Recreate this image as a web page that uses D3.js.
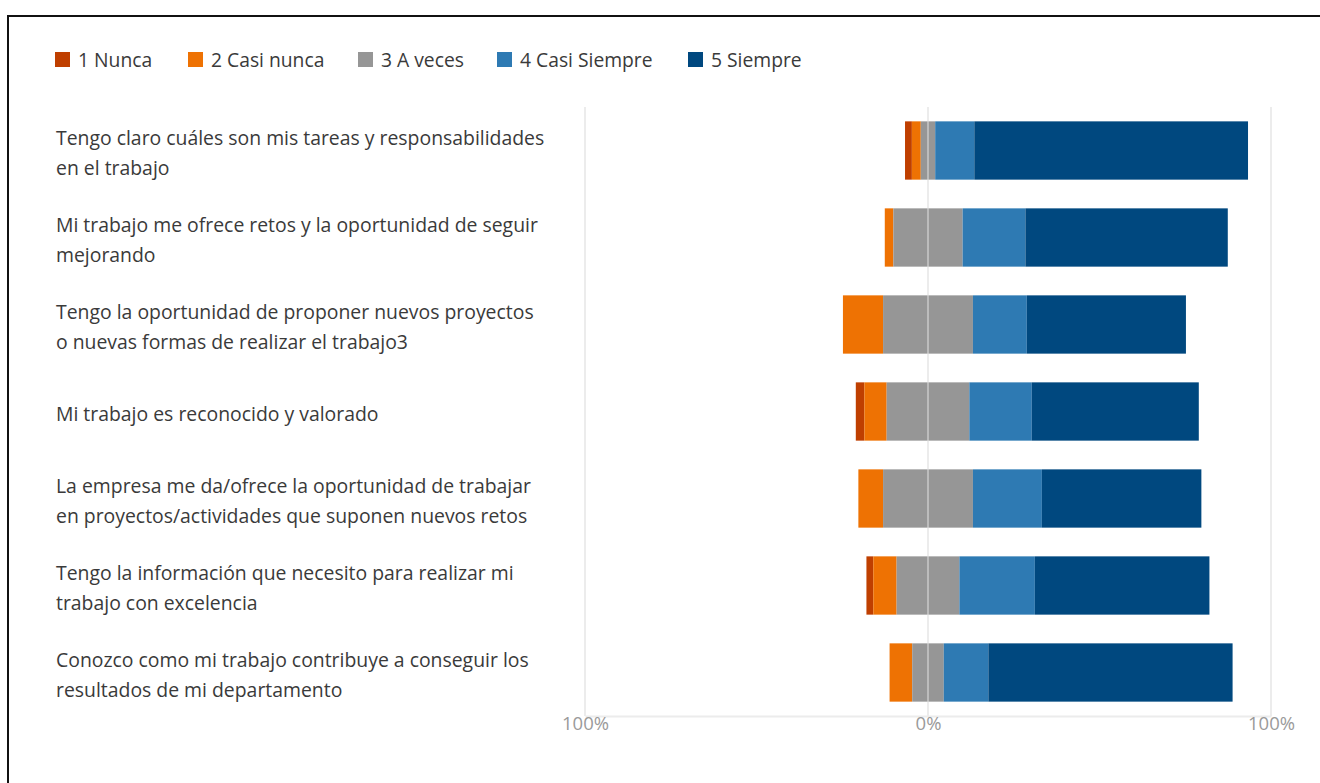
<!DOCTYPE html>
<html>
<head>
<meta charset="utf-8">
<script src="https://cdn.jsdelivr.net/npm/d3@7"></script>
<style>
  html, body { margin: 0; padding: 0; background: #fff; }
  svg { display: block; font-family: "Open Sans", "Noto Sans", sans-serif; }
</style>
</head>
<body>
<svg id="chart" width="1320" height="783"></svg>
<script>
// Survey statements (line breaks mark the wrapped label lines)
const categories = [
  "Tengo claro cuáles son mis tareas y responsabilidades\nen el trabajo",
  "Mi trabajo me ofrece retos y la oportunidad de seguir\nmejorando",
  "Tengo la oportunidad de proponer nuevos proyectos\no nuevas formas de realizar el trabajo3",
  "Mi trabajo es reconocido y valorado",
  "La empresa me da/ofrece la oportunidad de trabajar\nen proyectos/actividades que suponen nuevos retos",
  "Tengo la información que necesito para realizar mi\ntrabajo con excelencia",
  "Conozco como mi trabajo contribuye a conseguir los\nresultados de mi departamento"
];

const seriesNames = ["1 Nunca", "2 Casi nunca", "3 A veces", "4 Casi Siempre", "5 Siempre"];
const seriesColors = ["#bf3f00", "#ee7203", "#969696", "#2e7ab3", "#00487f"];

// Percentage of answers per statement, one array per answer level
const nunca       = [2.0, 0.0, 0.0, 2.5, 0.0, 2.0, 0.0];
const casiNunca   = [2.6, 2.5, 11.7, 6.5, 7.2, 6.8, 6.6];
const aVeces      = [4.2, 20.2, 26.2, 24.1, 26.2, 18.3, 9.2];
const casiSiempre = [11.4, 18.3, 15.7, 18.2, 20.1, 22.0, 13.0];
const siempre     = [79.8, 59.0, 46.4, 48.7, 46.5, 50.9, 71.2];

const tickValues = [-100, 0, 100];
const tickLabels = ["100%", "0%", "100%"];

const series = [nunca, casiNunca, aVeces, casiSiempre, siempre];

const svg = d3.select("#chart");

// Frame
svg.append("path")
  .attr("d", "M8,783 V16 H1320")
  .attr("fill", "none")
  .attr("stroke", "#111")
  .attr("stroke-width", 2);

const x = d3.scaleLinear().domain([-100, 100]).range([585, 1271]);
const y = d3.scaleBand().domain(d3.range(categories.length)).range([107, 716]).paddingInner(0.33).paddingOuter(0.165);

// Diverging segments: neutral split around zero, negatives to the left
const rows = categories.map((c, i) => {
  const v = series.map(s => s[i]);
  let start = -(v[0] + v[1] + v[2] / 2);
  return v.map((val, k) => {
    const seg = { row: i, k, x0: start, x1: start + val };
    start += val;
    return seg;
  });
});

const g = svg.append("g");
g.selectAll("g.row")
  .data(rows)
  .join("g")
  .attr("class", "row")
  .selectAll("rect")
  .data(d => d.filter(s => s.x1 - s.x0 > 0))
  .join("rect")
  .attr("x", d => x(d.x0))
  .attr("width", d => x(d.x1) - x(d.x0))
  .attr("y", d => y(d.row))
  .attr("height", y.bandwidth())
  .attr("fill", d => seriesColors[d.k]);

// Vertical gridlines drawn over the bars
svg.append("g")
  .selectAll("line")
  .data(tickValues)
  .join("line")
  .attr("x1", d => x(d)).attr("x2", d => x(d))
  .attr("y1", 107).attr("y2", 716)
  .attr("stroke", "#dcdcdc")
  .attr("stroke-opacity", 0.55)
  .attr("stroke-width", 2);

// Baseline axis with percentage labels
const axis = svg.append("g").attr("transform", "translate(0,716)")
  .call(d3.axisBottom(x).tickValues(tickValues).tickSize(0).tickFormat((d, i) => tickLabels[i]));
axis.select(".domain").attr("stroke", "#ececec").attr("stroke-width", 2);
axis.selectAll("text")
  .attr("dy", "0.71em")
  .attr("y", 1)
  .attr("fill", "#9a9a9a")
  .style("font-size", "18.5px")
  .style("font-family", "'Open Sans', sans-serif");

// Statement labels
const labels = svg.append("g");
categories.forEach((c, i) => {
  const lines = c.split("\n");
  const cy = y(i) + y.bandwidth() / 2;
  const lh = 30;
  const t = labels.append("text")
    .attr("x", 56)
    .attr("fill", "#3a3a3a")
    .style("font-size", "19.4px");
  lines.forEach((ln, j) => {
    t.append("tspan")
      .attr("x", 56)
      .attr("y", cy + (j - (lines.length - 1) / 2) * lh + 4)
      .attr("dominant-baseline", "middle")
      .text(ln);
  });
});

// Legend
const legendX = [55, 188, 358, 497, 688];
const legend = svg.append("g");
seriesNames.forEach((n, k) => {
  legend.append("rect")
    .attr("x", legendX[k]).attr("y", 52)
    .attr("width", 15).attr("height", 15)
    .attr("fill", seriesColors[k]);
  legend.append("text")
    .attr("x", legendX[k] + 23).attr("y", 61.5)
    .attr("dominant-baseline", "middle")
    .attr("fill", "#3a3a3a")
    .style("font-size", "19.3px")
    .text(n);
});
</script>
</body>
</html>
